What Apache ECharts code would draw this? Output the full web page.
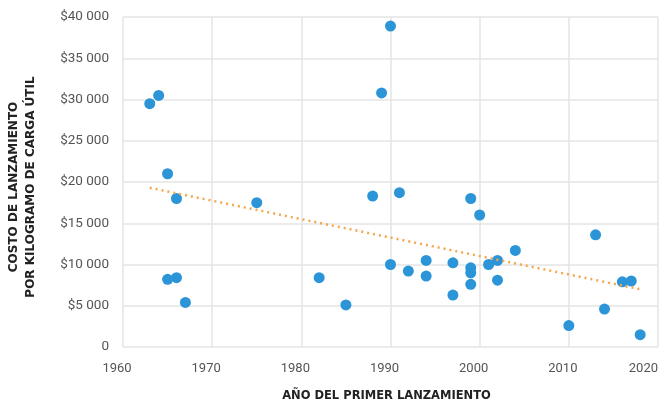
<!DOCTYPE html>
<html>
<head>
<meta charset="utf-8">
<script src="https://cdn.jsdelivr.net/npm/echarts@6/dist/echarts.min.js"></script>
<style>
  html, body { margin: 0; padding: 0; background: #fff; }
  #chart { width: 661px; height: 403px; }
</style>
</head>
<body>
<div id="chart"></div>
<script>
// year of first launch, cost per kg of payload (USD)
const years = [
  1963, 1964, 1965, 1966, 1965, 1966, 1967, 1975, 1982, 1985,
  1988, 1989, 1990, 1990, 1991, 1992, 1994, 1994, 1997, 1997,
  1999, 1999, 1999, 1999, 2000, 2001, 2002, 2002, 2004, 2010,
  2013, 2014, 2016, 2017, 2018,
];
const costs = [
  29500, 30500, 21000, 18000, 8200, 8400, 5400, 17500, 8400, 5100,
  18300, 30800, 38900, 10000, 18700, 9200, 10500, 8600, 10200, 6300,
  18000, 9600, 9000, 7600, 16000, 10000, 10500, 8100, 11700, 2600,
  13600, 4600, 7900, 8000, 1500,
];
// trend line
const trendYears = [1963, 2018];
const trendCosts = [19300, 7000];

const points = years.map((y, i) => [y, costs[i]]);
const trend = trendYears.map((y, i) => [y, trendCosts[i]]);

const fmtMoney = (v) => {
  if (v === 0) return "0";
  const s = String(v);
  return "$" + s.slice(0, s.length - 3) + " " + s.slice(-3);
};

// last year label sits flush with the right edge, the others a bit left of the gridline
const fmtYear = (v) => (v === 2020 ? "{last|" + v + "}" : "{yr|" + v + "}");

const titleStyle = {
  fontFamily: "DejaVu Sans",
  fontWeight: "bold",
  color: "#222",
};

const chart = echarts.init(document.getElementById("chart"));
chart.setOption({
  animation: false,
  textStyle: { fontFamily: "Roboto" },
  grid: {
    left: 123, right: 3, top: 17, bottom: 56,
    containLabel: false,
    outerBoundsMode: "none",
  },
  xAxis: {
    type: "value",
    min: 1960,
    max: 2020,
    interval: 10,
    name: "AÑO DEL PRIMER LANZAMIENTO",
    nameLocation: "middle",
    nameGap: 43,
    nameTextStyle: { ...titleStyle, fontSize: 11.5, padding: [0, 8, 0, 0] },
    axisLine: { show: false },
    axisTick: { show: false },
    axisLabel: {
      color: "#555",
      fontSize: 13,
      margin: 15,
      formatter: fmtYear,
      alignMaxLabel: "right",
      rich: {
        yr: { fontSize: 13, color: "#555", padding: [0, 12, 0, 0] },
        last: { fontSize: 13, color: "#555" },
      },
    },
    splitLine: { lineStyle: { color: "#e4e4e4", width: 1.5 } },
  },
  yAxis: {
    type: "value",
    min: 0,
    max: 40000,
    interval: 5000,
    name: "COSTO DE LANZAMIENTO\nPOR KILOGRAMO DE CARGA ÚTIL",
    nameLocation: "middle",
    nameRotate: 90,
    nameGap: 84,
    nameTextStyle: { ...titleStyle, fontSize: 12, lineHeight: 17, padding: [0, 10, 0, 0] },
    axisLine: { show: false },
    axisTick: { show: false },
    axisLabel: { color: "#555", fontSize: 13.5, margin: 14, formatter: fmtMoney },
    splitLine: { lineStyle: { color: "#e4e4e4", width: 1.5 } },
  },
  series: [
    {
      name: "Tendencia",
      type: "line",
      data: trend,
      symbol: "none",
      z: 3,
      lineStyle: { color: "#f5a54a", width: 2.5, type: [2, 4] },
    },
    {
      name: "Costo",
      type: "scatter",
      data: points,
      symbolSize: 11,
      z: 2,
      itemStyle: { color: "#2b95d8", opacity: 1 },
    },
  ],
});
</script>
</body>
</html>
